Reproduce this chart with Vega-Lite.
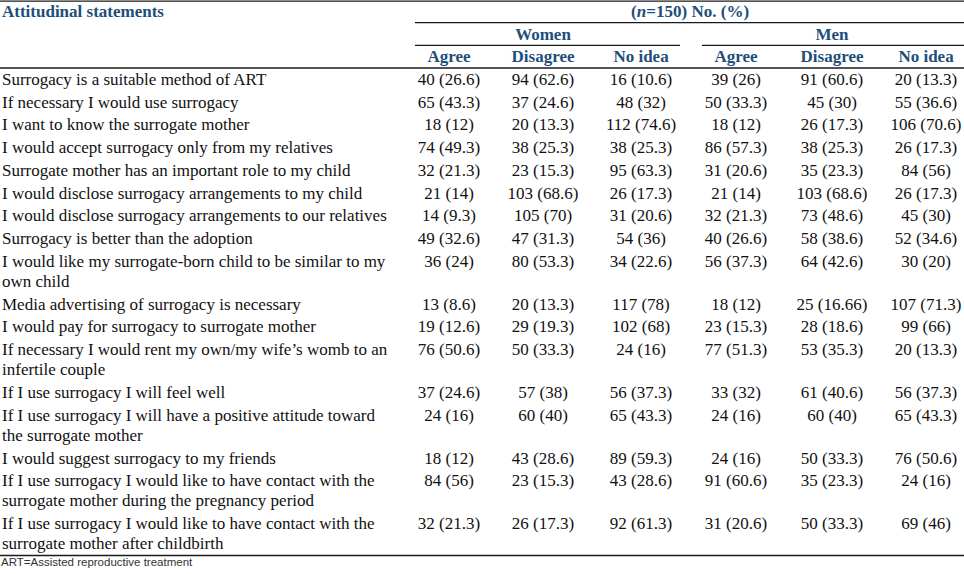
{
  "$schema": "https://vega.github.io/schema/vega-lite/v6.json",
  "width": 964,
  "height": 574,
  "autosize": {"type": "none"},
  "padding": 0,
  "background": "white",
  "config": {"view": {"stroke": null}},
  "datasets": {
    "rows": [
      {"order": 1, "statement": "Surrogacy is a suitable method of ART", "w_agree": "40 (26.6)", "w_dis": "94 (62.6)", "w_no": "16 (10.6)", "m_agree": "39 (26)", "m_dis": "91 (60.6)", "m_no": "20 (13.3)"},
      {"order": 2, "statement": "If necessary I would use surrogacy", "w_agree": "65 (43.3)", "w_dis": "37 (24.6)", "w_no": "48 (32)", "m_agree": "50 (33.3)", "m_dis": "45 (30)", "m_no": "55 (36.6)"},
      {"order": 3, "statement": "I want to know the surrogate mother", "w_agree": "18 (12)", "w_dis": "20 (13.3)", "w_no": "112 (74.6)", "m_agree": "18 (12)", "m_dis": "26 (17.3)", "m_no": "106 (70.6)"},
      {"order": 4, "statement": "I would accept surrogacy only from my relatives", "w_agree": "74 (49.3)", "w_dis": "38 (25.3)", "w_no": "38 (25.3)", "m_agree": "86 (57.3)", "m_dis": "38 (25.3)", "m_no": "26 (17.3)"},
      {"order": 5, "statement": "Surrogate mother has an important role to my child", "w_agree": "32 (21.3)", "w_dis": "23 (15.3)", "w_no": "95 (63.3)", "m_agree": "31 (20.6)", "m_dis": "35 (23.3)", "m_no": "84 (56)"},
      {"order": 6, "statement": "I would disclose surrogacy arrangements to my child", "w_agree": "21 (14)", "w_dis": "103 (68.6)", "w_no": "26 (17.3)", "m_agree": "21 (14)", "m_dis": "103 (68.6)", "m_no": "26 (17.3)"},
      {"order": 7, "statement": "I would disclose surrogacy arrangements to our relatives", "w_agree": "14 (9.3)", "w_dis": "105 (70)", "w_no": "31 (20.6)", "m_agree": "32 (21.3)", "m_dis": "73 (48.6)", "m_no": "45 (30)"},
      {"order": 8, "statement": "Surrogacy is better than the adoption", "w_agree": "49 (32.6)", "w_dis": "47 (31.3)", "w_no": "54 (36)", "m_agree": "40 (26.6)", "m_dis": "58 (38.6)", "m_no": "52 (34.6)"},
      {"order": 9, "statement": "I would like my surrogate-born child to be similar to my\nown child", "w_agree": "36 (24)", "w_dis": "80 (53.3)", "w_no": "34 (22.6)", "m_agree": "56 (37.3)", "m_dis": "64 (42.6)", "m_no": "30 (20)"},
      {"order": 10, "statement": "Media advertising of surrogacy is necessary", "w_agree": "13 (8.6)", "w_dis": "20 (13.3)", "w_no": "117 (78)", "m_agree": "18 (12)", "m_dis": "25 (16.66)", "m_no": "107 (71.3)"},
      {"order": 11, "statement": "I would pay for surrogacy to surrogate mother", "w_agree": "19 (12.6)", "w_dis": "29 (19.3)", "w_no": "102 (68)", "m_agree": "23 (15.3)", "m_dis": "28 (18.6)", "m_no": "99 (66)"},
      {"order": 12, "statement": "If necessary I would rent my own/my wife’s womb to an\ninfertile couple", "w_agree": "76 (50.6)", "w_dis": "50 (33.3)", "w_no": "24 (16)", "m_agree": "77 (51.3)", "m_dis": "53 (35.3)", "m_no": "20 (13.3)"},
      {"order": 13, "statement": "If I use surrogacy I will feel well", "w_agree": "37 (24.6)", "w_dis": "57 (38)", "w_no": "56 (37.3)", "m_agree": "33 (32)", "m_dis": "61 (40.6)", "m_no": "56 (37.3)"},
      {"order": 14, "statement": "If I use surrogacy I will have a positive attitude toward\nthe surrogate mother", "w_agree": "24 (16)", "w_dis": "60 (40)", "w_no": "65 (43.3)", "m_agree": "24 (16)", "m_dis": "60 (40)", "m_no": "65 (43.3)"},
      {"order": 15, "statement": "I would suggest surrogacy to my friends", "w_agree": "18 (12)", "w_dis": "43 (28.6)", "w_no": "89 (59.3)", "m_agree": "24 (16)", "m_dis": "50 (33.3)", "m_no": "76 (50.6)"},
      {"order": 16, "statement": "If I use surrogacy I would like to have contact with the\nsurrogate mother during the pregnancy period", "w_agree": "84 (56)", "w_dis": "23 (15.3)", "w_no": "43 (28.6)", "m_agree": "91 (60.6)", "m_dis": "35 (23.3)", "m_no": "24 (16)"},
      {"order": 17, "statement": "If I use surrogacy I would like to have contact with the\nsurrogate mother after childbirth", "w_agree": "32 (21.3)", "w_dis": "26 (17.3)", "w_no": "92 (61.3)", "m_agree": "31 (20.6)", "m_dis": "50 (33.3)", "m_no": "69 (46)"}
    ],
    "heads": [
      {"text": "Attitudinal statements", "tier": 0, "start": 0, "end": 0},
      {"text": "No. (%)", "tier": 0, "start": 1, "end": 6},
      {"text": "Women", "tier": 1, "start": 1, "end": 3},
      {"text": "Men", "tier": 1, "start": 4, "end": 6},
      {"text": "Agree", "tier": 2, "start": 1, "end": 1},
      {"text": "Disagree", "tier": 2, "start": 2, "end": 2},
      {"text": "No idea", "tier": 2, "start": 3, "end": 3},
      {"text": "Agree", "tier": 2, "start": 4, "end": 4},
      {"text": "Disagree", "tier": 2, "start": 5, "end": 5},
      {"text": "No idea", "tier": 2, "start": 6, "end": 6}
    ],
    "notes": [
      {"note": "ART=Assisted reproductive treatment"}
    ]
  },
  "layer": [
    {
      "data": {"name": "rows"},
      "transform": [
        {"calculate": "1 + (length(split(datum.statement, '\\n')) - 1) * 0.894", "as": "step"},
        {"window": [{"op": "sum", "field": "step", "as": "cum"}], "sort": [{"field": "order"}], "frame": [null, 0]},
        {"calculate": "3 + datum.cum - datum.step", "as": "pos"}
      ],
      "mark": {"type": "text", "align": "left", "baseline": "alphabetic", "dx": 2, "dy": 5, "font": "Liberation Serif", "fontSize": 17, "lineHeight": 20, "lineBreak": "\n", "color": "#111111"},
      "encoding": {
        "x": {"datum": 0, "type": "quantitative", "scale": {"type": "linear", "domain": [0, 1, 2, 3, 4, 5, 6], "range": [0, 449, 543, 641, 736, 832, 926], "nice": false, "zero": false}, "axis": null},
        "y": {"field": "pos", "type": "quantitative", "scale": {"domain": [-0.5286, 24.758], "range": [0, 574], "nice": false, "zero": false}, "axis": null},
        "text": {"field": "statement"}
      }
    },
    {
      "data": {"name": "rows"},
      "transform": [
        {"calculate": "1 + (length(split(datum.statement, '\\n')) - 1) * 0.894", "as": "step"},
        {"window": [{"op": "sum", "field": "step", "as": "cum"}], "sort": [{"field": "order"}], "frame": [null, 0]},
        {"calculate": "3 + datum.cum - datum.step", "as": "pos"},
        {"fold": ["w_agree", "w_dis", "w_no", "m_agree", "m_dis", "m_no"], "as": ["key", "value"]},
        {"calculate": "indexof(['w_agree', 'w_dis', 'w_no', 'm_agree', 'm_dis', 'm_no'], datum.key) + 1", "as": "col"}
      ],
      "mark": {"type": "text", "align": "center", "baseline": "alphabetic", "dy": 5, "font": "Liberation Serif", "fontSize": 17, "color": "#111111"},
      "encoding": {
        "x": {"field": "col", "type": "quantitative", "scale": {"type": "linear", "domain": [0, 1, 2, 3, 4, 5, 6], "range": [0, 449, 543, 641, 736, 832, 926], "nice": false, "zero": false}, "axis": null},
        "y": {"field": "pos", "type": "quantitative", "scale": {"domain": [-0.5286, 24.758], "range": [0, 574], "nice": false, "zero": false}, "axis": null},
        "text": {"field": "value"}
      }
    },
    {
      "data": {"name": "heads"},
      "transform": [{"filter": "datum.start == 0"}],
      "mark": {"type": "text", "align": "left", "baseline": "alphabetic", "dx": 2, "dy": 5, "font": "Liberation Serif", "fontWeight": "bold", "fontSize": 17, "color": "#1e4e79"},
      "encoding": {
        "x": {"field": "start", "type": "quantitative", "scale": {"type": "linear", "domain": [0, 1, 2, 3, 4, 5, 6], "range": [0, 449, 543, 641, 736, 832, 926], "nice": false, "zero": false}, "axis": null},
        "y": {"field": "tier", "type": "quantitative", "scale": {"domain": [-0.5286, 24.758], "range": [0, 574], "nice": false, "zero": false}, "axis": null},
        "text": {"field": "text"}
      }
    },
    {
      "data": {"name": "heads"},
      "transform": [{"filter": "datum.start > 0 && datum.tier > 0"}, {"calculate": "(datum.start + datum.end) / 2", "as": "mid"}],
      "mark": {"type": "text", "align": "center", "baseline": "alphabetic", "dy": 5, "font": "Liberation Serif", "fontWeight": "bold", "fontSize": 17, "color": "#1e4e79"},
      "encoding": {
        "x": {"field": "mid", "type": "quantitative", "scale": {"type": "linear", "domain": [0, 1, 2, 3, 4, 5, 6], "range": [0, 449, 543, 641, 736, 832, 926], "nice": false, "zero": false}, "axis": null},
        "y": {"field": "tier", "type": "quantitative", "scale": {"domain": [-0.5286, 24.758], "range": [0, 574], "nice": false, "zero": false}, "axis": null},
        "text": {"field": "text"}
      }
    },
    {
      "data": {"name": "heads"},
      "transform": [{"filter": "datum.start > 0 && datum.tier == 0"}, {"calculate": "(datum.start + datum.end) / 2", "as": "mid"}],
      "mark": {"type": "text", "align": "left", "baseline": "alphabetic", "dx": 3, "dy": 5, "font": "Liberation Serif", "fontWeight": "bold", "fontSize": 17, "color": "#1e4e79"},
      "encoding": {
        "x": {"field": "mid", "type": "quantitative", "scale": {"type": "linear", "domain": [0, 1, 2, 3, 4, 5, 6], "range": [0, 449, 543, 641, 736, 832, 926], "nice": false, "zero": false}, "axis": null},
        "y": {"field": "tier", "type": "quantitative", "scale": {"domain": [-0.5286, 24.758], "range": [0, 574], "nice": false, "zero": false}, "axis": null},
        "text": {"field": "text"}
      }
    },
    {
      "data": {"name": "heads"},
      "transform": [{"filter": "datum.start > 0 && datum.tier == 0"}, {"calculate": "(datum.start + datum.end) / 2", "as": "mid"}],
      "mark": {"type": "text", "align": "right", "baseline": "alphabetic", "dx": -1.4, "dy": 5, "font": "Liberation Serif", "fontWeight": "bold", "fontSize": 17, "color": "#1e4e79"},
      "encoding": {
        "x": {"field": "mid", "type": "quantitative", "scale": {"type": "linear", "domain": [0, 1, 2, 3, 4, 5, 6], "range": [0, 449, 543, 641, 736, 832, 926], "nice": false, "zero": false}, "axis": null},
        "y": {"field": "tier", "type": "quantitative", "scale": {"domain": [-0.5286, 24.758], "range": [0, 574], "nice": false, "zero": false}, "axis": null},
        "text": {"value": "=150)"}
      }
    },
    {
      "data": {"name": "heads"},
      "transform": [{"filter": "datum.start > 0 && datum.tier == 0"}, {"calculate": "(datum.start + datum.end) / 2", "as": "mid"}],
      "mark": {"type": "text", "align": "right", "baseline": "alphabetic", "dx": -42.3, "dy": 5, "font": "Liberation Serif", "fontStyle": "italic", "fontWeight": "bold", "fontSize": 17, "color": "#1e4e79"},
      "encoding": {
        "x": {"field": "mid", "type": "quantitative", "scale": {"type": "linear", "domain": [0, 1, 2, 3, 4, 5, 6], "range": [0, 449, 543, 641, 736, 832, 926], "nice": false, "zero": false}, "axis": null},
        "y": {"field": "tier", "type": "quantitative", "scale": {"domain": [-0.5286, 24.758], "range": [0, 574], "nice": false, "zero": false}, "axis": null},
        "text": {"value": "n"}
      }
    },
    {
      "data": {"name": "heads"},
      "transform": [{"filter": "datum.start > 0 && datum.tier == 0"}, {"calculate": "(datum.start + datum.end) / 2", "as": "mid"}],
      "mark": {"type": "text", "align": "right", "baseline": "alphabetic", "dx": -51.8, "dy": 5, "font": "Liberation Serif", "fontWeight": "bold", "fontSize": 17, "color": "#1e4e79"},
      "encoding": {
        "x": {"field": "mid", "type": "quantitative", "scale": {"type": "linear", "domain": [0, 1, 2, 3, 4, 5, 6], "range": [0, 449, 543, 641, 736, 832, 926], "nice": false, "zero": false}, "axis": null},
        "y": {"field": "tier", "type": "quantitative", "scale": {"domain": [-0.5286, 24.758], "range": [0, 574], "nice": false, "zero": false}, "axis": null},
        "text": {"value": "("}
      }
    },
    {
      "data": {"name": "heads"},
      "transform": [{"filter": "datum.start > 0 && datum.tier < 2"}, {"calculate": "datum.tier + 0.47", "as": "below"}],
      "mark": {"type": "rule", "xOffset": -34, "x2Offset": 39, "color": "#1a1a1a", "strokeWidth": 1.2},
      "encoding": {
        "x": {"field": "start", "type": "quantitative", "scale": {"type": "linear", "domain": [0, 1, 2, 3, 4, 5, 6], "range": [0, 449, 543, 641, 736, 832, 926], "nice": false, "zero": false}, "axis": null},
        "x2": {"field": "end"},
        "y": {"field": "below", "type": "quantitative", "scale": {"domain": [-0.5286, 24.758], "range": [0, 574], "nice": false, "zero": false}, "axis": null}
      }
    },
    {
      "data": {"name": "heads"},
      "transform": [
        {"aggregate": [{"op": "min", "field": "tier", "as": "first"}, {"op": "max", "field": "tier", "as": "last"}]},
        {"fold": ["first", "last"], "as": ["edge", "t"]},
        {"calculate": "datum.edge == 'first' ? datum.t - 0.48 : datum.t + 0.47", "as": "ypos"}
      ],
      "mark": {"type": "rule", "color": "#1a1a1a", "strokeWidth": 1.4},
      "encoding": {
        "x": {"datum": 0, "type": "quantitative", "scale": {"type": "linear", "domain": [0, 1, 2, 3, 4, 5, 6], "range": [0, 449, 543, 641, 736, 832, 926], "nice": false, "zero": false}, "axis": null},
        "x2": {"datum": 6.5},
        "y": {"field": "ypos", "type": "quantitative", "scale": {"domain": [-0.5286, 24.758], "range": [0, 574], "nice": false, "zero": false}, "axis": null}
      }
    },
    {
      "data": {"name": "rows"},
      "transform": [
        {"calculate": "1 + (length(split(datum.statement, '\\n')) - 1) * 0.894", "as": "step"},
        {"aggregate": [{"op": "sum", "field": "step", "as": "total"}]},
        {"calculate": "3 + datum.total - 0.53", "as": "bottom"}
      ],
      "mark": {"type": "rule", "color": "#1a1a1a", "strokeWidth": 1.4},
      "encoding": {
        "x": {"datum": 0, "type": "quantitative", "scale": {"type": "linear", "domain": [0, 1, 2, 3, 4, 5, 6], "range": [0, 449, 543, 641, 736, 832, 926], "nice": false, "zero": false}, "axis": null},
        "x2": {"datum": 6.5},
        "y": {"field": "bottom", "type": "quantitative", "scale": {"domain": [-0.5286, 24.758], "range": [0, 574], "nice": false, "zero": false}, "axis": null}
      }
    },
    {
      "data": {"name": "rows"},
      "transform": [
        {"calculate": "1 + (length(split(datum.statement, '\\n')) - 1) * 0.894", "as": "step"},
        {"aggregate": [{"op": "sum", "field": "step", "as": "total"}]},
        {"calculate": "3 + datum.total - 0.53", "as": "bottom"},
        {"lookup": "total", "from": {"data": {"name": "notes"}, "key": "note", "fields": ["note"]}, "default": "ART=Assisted reproductive treatment"}
      ],
      "mark": {"type": "text", "align": "left", "baseline": "middle", "dx": 1, "dy": 8, "font": "Liberation Sans", "fontSize": 11.5, "color": "#333333"},
      "encoding": {
        "x": {"datum": 0, "type": "quantitative", "scale": {"type": "linear", "domain": [0, 1, 2, 3, 4, 5, 6], "range": [0, 449, 543, 641, 736, 832, 926], "nice": false, "zero": false}, "axis": null},
        "y": {"field": "bottom", "type": "quantitative", "scale": {"domain": [-0.5286, 24.758], "range": [0, 574], "nice": false, "zero": false}, "axis": null},
        "text": {"field": "note"}
      }
    }
  ]
}
